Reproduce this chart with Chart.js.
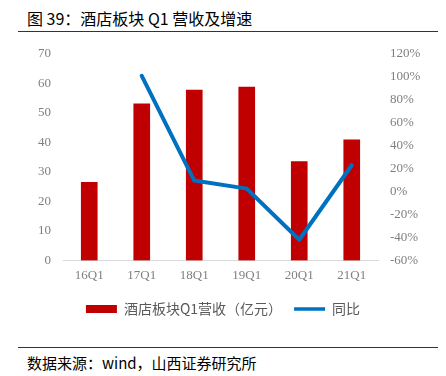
<!DOCTYPE html>
<html>
<head>
<meta charset="utf-8">
<script src="https://cdn.jsdelivr.net/npm/chart.js@4/dist/chart.umd.min.js"></script>
<style>
  body { margin: 0; background: #fff; width: 446px; height: 376px; position: relative; overflow: hidden; }
  #title { position: absolute; left: 27px; top: 6px; font: 16px "Noto Sans CJK SC", sans-serif; color: #000; }
  .rule { position: absolute; left: 18px; width: 420px; height: 0; border-top: 1.5px solid #333; }
  #source { position: absolute; left: 27px; top: 352px; font: 15px "Noto Sans CJK SC", sans-serif; color: #000; }
  #wrap { position: absolute; left: 0; top: 0; width: 446px; height: 330px; }
</style>
</head>
<body>
<div id="title">图 39：酒店板块 Q1 营收及增速</div>
<div class="rule" style="top:31px"></div>
<div id="wrap"><canvas id="hotel_chart"></canvas></div>
<div class="rule" style="top:347px"></div>
<div id="source">数据来源：wind，山西证券研究所</div>
<script>
// 季度标签和数据
var quarters = ['16Q1', '17Q1', '18Q1', '19Q1', '20Q1', '21Q1'];
var revenue = [26.5, 53.1, 57.8, 58.8, 33.5, 40.9];      // 亿元
var yoy = [null, 1.01, 0.096, 0.026, -0.42, 0.23];         // 同比

var tick_font = { family: '"Liberation Serif", "Noto Sans CJK SC", serif', size: 13 };
var tick_color = '#7f7f7f';

var ctx = document.getElementById('hotel_chart').getContext('2d');
var hotelchart = new Chart(ctx, {
    type: 'bar',
    data: {
        labels: quarters,
        datasets: [{
            type: 'line',
            label: '同比',
            data: yoy,
            yAxisID: 'y1',
            borderColor: '#0070C0',
            backgroundColor: '#0070C0',
            borderWidth: 4,
            pointRadius: 0,
            borderCapStyle: 'round',
            borderJoinStyle: 'round',
            order: 0
        }, {
            label: '酒店板块Q1营收（亿元）',
            data: revenue,
            yAxisID: 'y',
            backgroundColor: '#C00000',
            barThickness: 16,
            order: 1
        }]
    },
    options: {
        responsive: true,
        maintainAspectRatio: false,
        animation: false,
        layout: { padding: { top: 54, bottom: 4 } },
        plugins: {
            legend: {
                position: 'bottom',
                reverse: true,
                labels: {
                    font: { family: '"Noto Sans CJK SC", sans-serif', size: 14 },
                    color: '#595959',
                    boxWidth: 31,
                    boxHeight: 8,
                    padding: 12,
                    usePointStyle: true,
                    pointStyleWidth: 31,
                    generateLabels: function(chart) {
                        // 柱子用矩形，折线用线段
                        return chart.data.datasets.map(function(ds, i) {
                            var is_line = ds.type === 'line';
                            return {
                                text: ds.label,
                                fillStyle: ds.backgroundColor,
                                strokeStyle: is_line ? ds.borderColor : ds.backgroundColor,
                                lineWidth: is_line ? 3.5 : 0,
                                pointStyle: is_line ? 'line' : 'rect',
                                fontColor: '#595959',
                                datasetIndex: i
                            };
                        });
                    }
                }
            },
            tooltip: { enabled: false }
        },
        scales: {
            x: {
                grid: { display: false, drawTicks: false },
                border: { display: true, color: '#d9d9d9', width: 1 },
                ticks: { font: tick_font, color: tick_color, padding: 7 }
            },
            y: {
                position: 'left',
                min: 0, max: 70,
                ticks: { stepSize: 10, font: tick_font, color: tick_color, padding: 12 },
                grid: { display: false, drawTicks: false },
                border: { display: false },
                afterFit: function(scale) { scale.width = 63; }
            },
            y1: {
                position: 'right',
                min: -0.6, max: 1.2,
                ticks: {
                    stepSize: 0.2, font: tick_font, color: tick_color, padding: 12,
                    callback: function(v) { return Math.round(v * 100) + '%'; }
                },
                grid: { display: false, drawTicks: false },
                border: { display: false },
                afterFit: function(scale) { scale.width = 68; }
            }
        }
    }
});
</script>
</body>
</html>
